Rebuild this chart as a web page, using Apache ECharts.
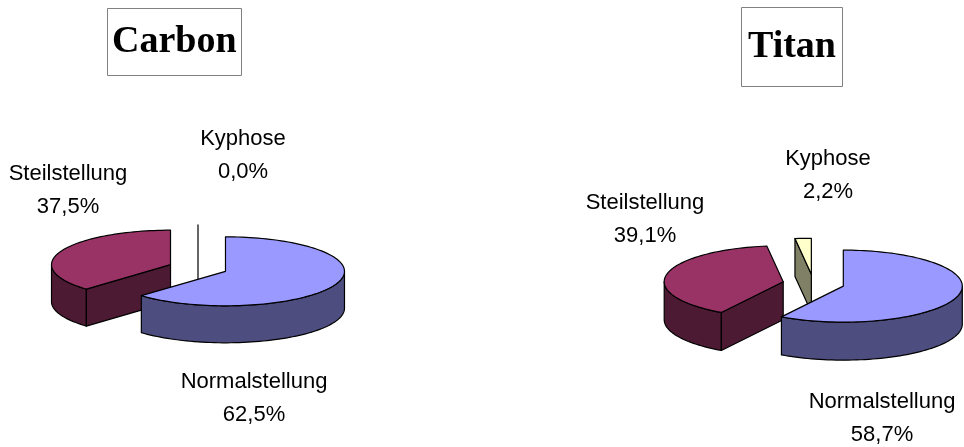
<!DOCTYPE html>
<html><head><meta charset="utf-8">
<script src="https://cdn.jsdelivr.net/npm/echarts@6/dist/echarts.min.js"></script>
<style>html,body{margin:0;padding:0;background:#fff}#c{width:964px;height:447px}</style>
</head><body><div id="c"></div>
<script>
// ---- data ----
const categories = ['Normalstellung', 'Steilstellung', 'Kyphose'];
const carbonValues = [62.5, 37.5, 0.0];
const titanValues = [58.7, 39.1, 2.2];
const chartTitles = ['Carbon', 'Titan'];

// ---- styles / layout ----
const topColors = ['#9999FF', '#993366', '#FFFFCC'];
const sideColors = ['#4D4D80', '#4D1A33', '#808066'];
const labelFont = '22px "Liberation Sans", Arial, sans-serif';

const pies = [
  { title: chartTitles[0], values: carbonValues, cx: 198, cy: 268, rx: 119, ry: 34.5, h: 37, explode: 0.25,
    labels: [[254, 398], [68, 190], [243, 155]], box: { left: 107, top: 8, padding: [14, 5] } },
  { title: chartTitles[1], values: titanValues, cx: 813.5, cy: 283.6, rx: 119, ry: 36, h: 38, explode: 0.26,
    labels: [[882, 418], [645, 219], [828, 175]], box: { left: 741, top: 7, padding: [20, 7] } }
];

const RAD = Math.PI / 180;

function makeSeries(pie) {
  const total = pie.values.reduce((a, b) => a + b, 0);
  const starts = [];
  let acc = 0;
  pie.values.forEach(v => { starts.push(acc); acc += v; });
  return {
    type: 'custom',
    name: pie.title,
    coordinateSystem: 'none',
    silent: true,
    data: pie.values.map((v, i) => ({ name: categories[i], value: [v, starts[i]] })),
    renderItem: function (params, api) {
      const i = params.dataIndex;
      const v = api.value(0), s = api.value(1);
      const a1 = s / total * 360, a2 = (s + v) / total * 360, mid = (a1 + a2) / 2;
      const rx = pie.rx, ry = pie.ry, h = pie.h;
      const ax = pie.cx + pie.explode * rx * Math.sin(mid * RAD);
      const ay = pie.cy - pie.explode * ry * Math.cos(mid * RAD);
      const pt = (a, dy) => [ax + rx * Math.sin(a * RAD), ay - ry * Math.cos(a * RAD) + (dy || 0)];
      const arc = (from, to, dy) => {
        const pts = [];
        const n = Math.max(1, Math.ceil(Math.abs(to - from) / 2));
        for (let k = 0; k <= n; k++) pts.push(pt(from + (to - from) * k / n, dy));
        return pts;
      };
      const base = (1 - Math.cos(mid * RAD)) * 100;
      const stroke = { stroke: '#000', lineWidth: 1.2, lineJoin: 'round' };
      const children = [];
      // outer wall (front half only)
      const lo = Math.max(a1, 90), hi = Math.min(a2, 270);
      if (hi > lo) {
        const pts = arc(lo, hi, 0).concat(arc(hi, lo, h));
        children.push({ type: 'polygon', z2: base, shape: { points: pts },
          style: Object.assign({ fill: sideColors[i] }, stroke) });
      }
      // radial faces
      const face = (a) => [[ax, ay], pt(a, 0), pt(a, h), [ax, ay + h]];
      const m1 = ((a1 % 360) + 360) % 360, m2 = ((a2 % 360) + 360) % 360;
      if (v === 0 || (m1 > 180 && m1 < 360)) {
        children.push({ type: 'polygon', z2: base + 1, shape: { points: face(a1) },
          style: Object.assign({ fill: sideColors[i] }, stroke) });
      }
      if (v > 0 && m2 > 0 && m2 < 180) {
        children.push({ type: 'polygon', z2: base + 1, shape: { points: face(a2) },
          style: Object.assign({ fill: sideColors[i] }, stroke) });
      }
      // top face
      if (v > 0) {
        children.push({ type: 'polygon', z2: base + 2, shape: { points: [[ax, ay]].concat(arc(a1, a2, 0)) },
          style: Object.assign({ fill: topColors[i] }, stroke) });
      }
      // label
      const pct = (v / total * 100).toFixed(1).replace('.', ',') + '%';
      const lp = pie.labels[i];
      children.push({ type: 'text', z2: 1000, x: lp[0], y: lp[1],
        style: { text: categories[i] + '\n' + pct, font: labelFont, fill: '#000',
          align: 'center', verticalAlign: 'middle', lineHeight: 33 } });
      return { type: 'group', children: children };
    }
  };
}

const chart = echarts.init(document.getElementById('c'), null, { renderer: 'canvas' });
chart.setOption({
  animation: false,
  backgroundColor: '#fff',
  title: pies.map(p => ({
    text: p.title, left: p.box.left, top: p.box.top, padding: p.box.padding,
    borderColor: '#808080', borderWidth: 1,
    textStyle: { fontFamily: '"Liberation Serif", "Times New Roman", serif', fontWeight: 'bold',
      fontSize: 38, color: '#000', lineHeight: 40 }
  })),
  series: pies.map(makeSeries)
});
</script></body></html>
